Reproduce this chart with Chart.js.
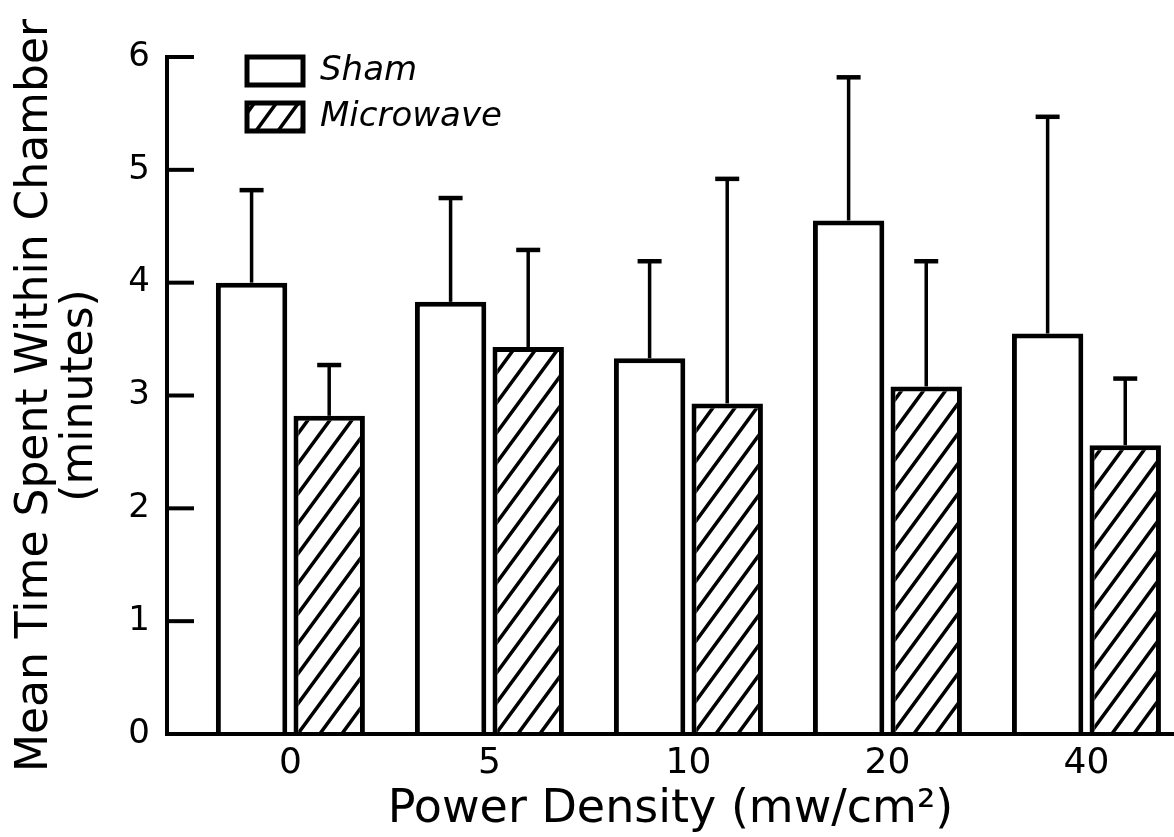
<!DOCTYPE html>
<html lang="en">
<head>
<meta charset="UTF-8"/>
<title>Mean Time Spent Within Chamber</title>
<script src="https://cdn.jsdelivr.net/npm/chart.js"></script>
<style>
  body { margin: 0; padding: 0; background: #fff; }
  .wrap { position: relative; width: 1174px; height: 837px; }
</style>
</head>
<body>
<div class="wrap"><canvas id="chamberChart"></canvas></div>
<script>
// power density groups (mw/cm2)
const powerLabels = ['0', '5', '10', '20', '40'];
// mean minutes in chamber
const shamMeans = [4.0, 3.83, 3.33, 4.55, 3.55];
const microwaveMeans = [2.82, 3.43, 2.93, 3.08, 2.56];
// upper error bar length (minutes)
const shamErr = [0.82, 0.92, 0.86, 1.27, 1.92];
const microwaveErr = [0.45, 0.86, 1.99, 1.11, 0.59];

const FONT = 'DejaVu Sans';
Chart.defaults.font.family = FONT;
Chart.defaults.color = '#000';

// diagonal hatch for the microwave bars
function makeHatch() {
  const w = 22, h = 30;
  const c = document.createElement('canvas');
  c.width = w; c.height = h;
  const g = c.getContext('2d');
  g.fillStyle = '#fff';
  g.fillRect(0, 0, w, h);
  g.strokeStyle = '#000';
  g.lineWidth = 3.5;
  g.beginPath();
  g.moveTo(-w, 2 * h); g.lineTo(2 * w, -h);
  g.moveTo(-2 * w, 2 * h); g.lineTo(w, -h);
  g.moveTo(0, 2 * h); g.lineTo(2 * w, 0);
  g.stroke();
  return g.createPattern(c, 'repeat');
}

const errorSets = [shamErr, microwaveErr];

// error bars (upper only) + inward y tick marks + legend placement
const figureExtras = {
  id: 'figureExtras',
  afterLayout(chart) {
    chart.legend.left = 235;
    chart.legend.top = 42;
  },
  afterDatasetsDraw(chart) {
    const {ctx, chartArea, scales: {y}} = chart;
    ctx.save();
    ctx.strokeStyle = '#000';
    chart.data.datasets.forEach((ds, di) => {
      const meta = chart.getDatasetMeta(di);
      meta.data.forEach((bar, i) => {
        const top = y.getPixelForValue(ds.data[i].y + errorSets[di][i]);
        ctx.lineWidth = 3.5;
        ctx.beginPath(); ctx.moveTo(bar.x, bar.y); ctx.lineTo(bar.x, top); ctx.stroke();
        ctx.lineWidth = 4.5;
        ctx.beginPath(); ctx.moveTo(bar.x - 12, top); ctx.lineTo(bar.x + 12, top); ctx.stroke();
      });
    });
    ctx.lineWidth = 4;
    y.ticks.forEach(t => {
      const py = y.getPixelForValue(t.value);
      ctx.beginPath(); ctx.moveTo(chartArea.left, py); ctx.lineTo(chartArea.left + 27, py); ctx.stroke();
    });
    ctx.restore();
  }
};

const ctx = document.getElementById('chamberChart').getContext('2d');
new Chart(ctx, {
  type: 'bar',
  data: {
    datasets: [
      { label: 'Sham', data: shamMeans.map((v, i) => ({x: i, y: v})),
        backgroundColor: '#fff', borderColor: '#000', borderWidth: 5 },
      { label: 'Microwave', data: microwaveMeans.map((v, i) => ({x: i, y: v})),
        backgroundColor: makeHatch(), borderColor: '#000', borderWidth: 5 }
    ]
  },
  options: {
    responsive: true,
    maintainAspectRatio: false,
    animation: false,
    layout: { padding: { top: 57, right: 0, bottom: 0, left: 0 } },
    datasets: { bar: { categoryPercentage: 0.78, barPercentage: 0.92 } },
    plugins: {
      tooltip: { enabled: false },
      legend: {
        position: 'chartArea',
        align: 'start',
        labels: { boxWidth: 56, boxHeight: 28, padding: 12, color: '#000',
                  font: { family: FONT, size: 34, style: 'italic' } }
      }
    },
    scales: {
      x: {
        type: 'linear', min: -0.62, max: 4.44, offset: false,
        afterBuildTicks: a => { a.ticks = powerLabels.map((_, i) => ({value: i})); },
        afterFit: s => { s.height = 103; },
        grid: { display: false, drawTicks: false },
        border: { display: true, color: '#000', width: 4, z: 1 },
        ticks: { callback: v => powerLabels[v], color: '#000', autoSkip: false, maxRotation: 0,
                 padding: 8, font: { family: FONT, size: 36 } },
        title: { display: true, text: 'Power Density (mw/cm²)', color: '#000',
                 font: { family: FONT, size: 46, lineHeight: 1.0 }, padding: { top: 0, bottom: 4 } }
      },
      y: {
        min: 0, max: 6,
        afterFit: s => { s.width = 167; },
        grid: { display: false, drawTicks: false },
        border: { display: true, color: '#000', width: 4, z: 1 },
        ticks: { stepSize: 1, color: '#000', padding: 17, font: { family: FONT, size: 34 } },
        title: { display: true, text: ['Mean Time Spent Within Chamber', '(minutes)'], color: '#000',
                 font: { family: FONT, size: 44, lineHeight: 1.03 }, padding: { top: 13, bottom: 0 } }
      }
    }
  },
  plugins: [figureExtras]
});
</script>
</body>
</html>
